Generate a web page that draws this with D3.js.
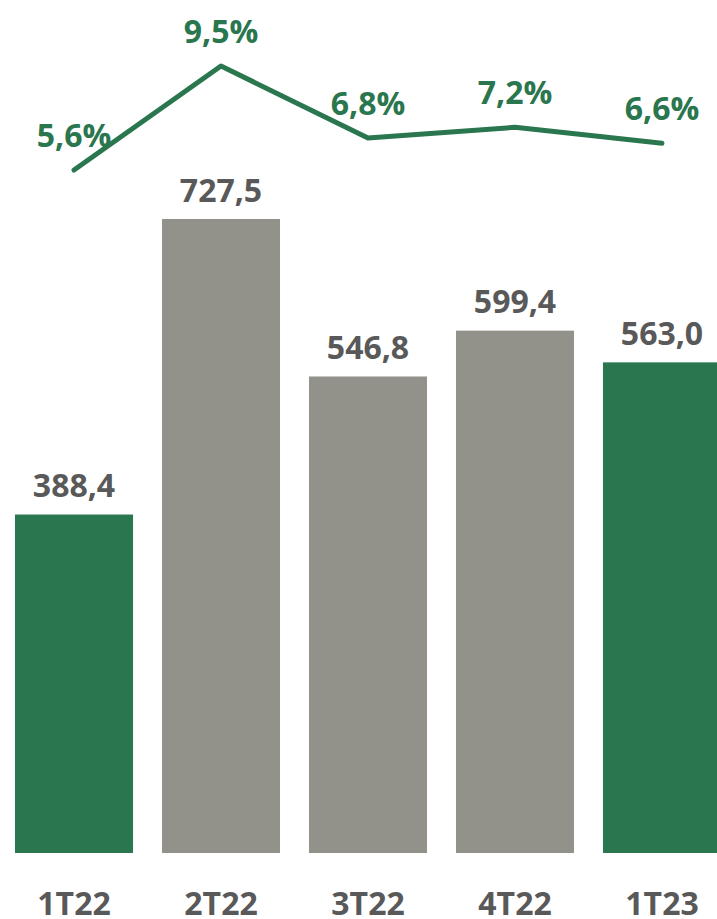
<!DOCTYPE html>
<html>
<head>
<meta charset="utf-8">
<script src="https://cdn.jsdelivr.net/npm/d3@7"></script>
<style>
  html, body { margin: 0; padding: 0; background: #ffffff; }
  svg { display: block; }
  text { font-family: "Open Sans", "Noto Sans", sans-serif; font-weight: 700; }
</style>
</head>
<body>
<div id="chart"></div>
<script>
// Quarterly values and margin percentages
const quarters = ["1T22", "2T22", "3T22", "4T22", "1T23"];
const values = [388.4, 727.5, 546.8, 599.4, 563.0];
const margins = [5.6, 9.5, 6.8, 7.2, 6.6];
const highlighted = ["1T22", "1T23"];

const W = 717, H = 919;
const green = "#2a764e", grey = "#92928a", textGrey = "#595959";

const fmt = (v, d) => v.toFixed(d).replace(".", ",");

const svg = d3.select("#chart").append("svg")
  .attr("width", W).attr("height", H);

const x = d3.scaleBand()
  .domain(quarters)
  .range([0.5, 735.5])
  .paddingInner(0.197)
  .paddingOuter(0.0985);

const yBar = d3.scaleLinear().domain([0, 727.5]).range([853, 219]);
const yLine = d3.scaleLinear().domain([5.6, 9.5]).range([170, 66]);

// Bars
svg.append("g").selectAll("rect")
  .data(quarters)
  .join("rect")
  .attr("x", d => x(d))
  .attr("width", x.bandwidth())
  .attr("y", (d, i) => yBar(values[i]))
  .attr("height", (d, i) => yBar(0) - yBar(values[i]))
  .attr("fill", d => highlighted.includes(d) ? green : grey);

// Bar value labels
svg.append("g").selectAll("text")
  .data(quarters)
  .join("text")
  .attr("x", d => x(d) + x.bandwidth() / 2)
  .attr("y", (d, i) => yBar(values[i]) - 17.5)
  .attr("text-anchor", "middle")
  .attr("font-size", 32)
  .attr("fill", textGrey)
  .text((d, i) => fmt(values[i], 1));

// Margin line
const line = d3.line()
  .x((d, i) => x(quarters[i]) + x.bandwidth() / 2)
  .y(d => yLine(d));

svg.append("path")
  .datum(margins)
  .attr("d", line)
  .attr("fill", "none")
  .attr("stroke", green)
  .attr("stroke-width", 5)
  .attr("stroke-linecap", "round")
  .attr("stroke-linejoin", "round");

// Margin labels
svg.append("g").selectAll("text")
  .data(margins)
  .join("text")
  .attr("x", (d, i) => x(quarters[i]) + x.bandwidth() / 2)
  .attr("y", d => yLine(d) - 23)
  .attr("text-anchor", "middle")
  .attr("font-size", 32)
  .attr("fill", green)
  .text(d => fmt(d, 1) + "%");

// Category axis
const axis = svg.append("g")
  .attr("transform", "translate(0,853)")
  .call(d3.axisBottom(x).tickSize(0).tickPadding(0));
axis.select(".domain").remove();
axis.selectAll("text")
  .attr("y", 61.5)
  .attr("dy", 0)
  .attr("font-size", 32)
  .attr("font-family", "'Open Sans', 'Noto Sans', sans-serif")
  .attr("font-weight", 700)
  .attr("fill", textGrey);
</script>
</body>
</html>
